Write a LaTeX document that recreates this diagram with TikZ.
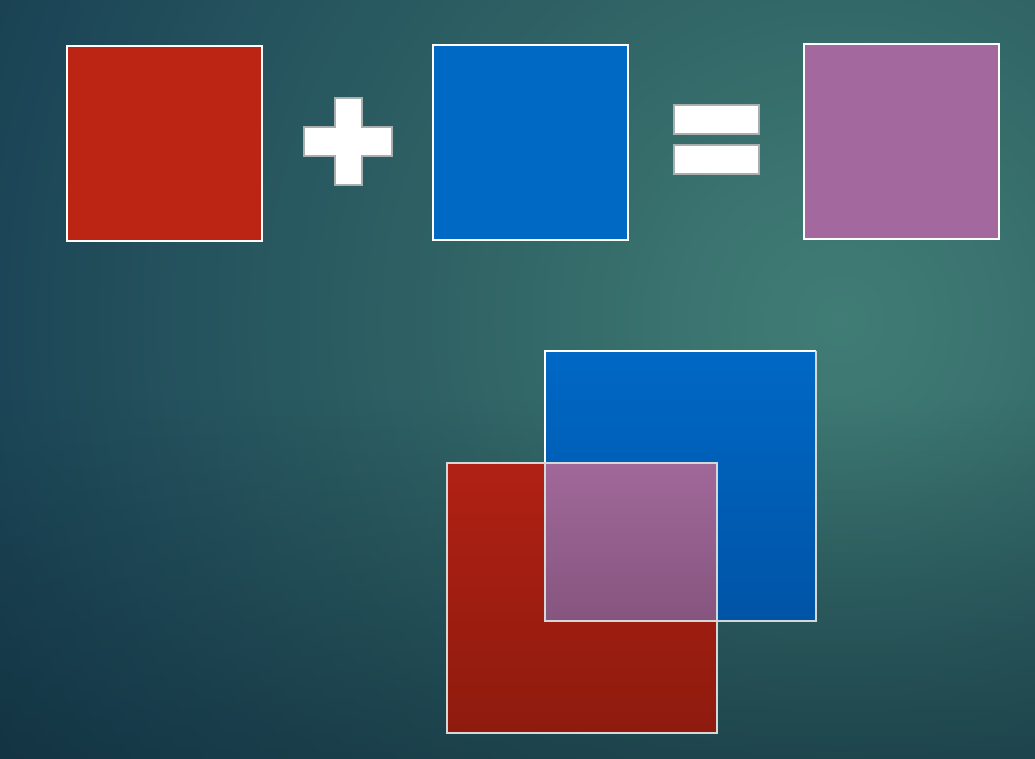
\documentclass[tikz,border=0pt]{standalone}
\usetikzlibrary{fadings}
\definecolor{bgA}{HTML}{407D75}
\definecolor{bgB}{HTML}{3C7671}
\definecolor{bgC}{HTML}{2F6264}
\definecolor{bgD}{HTML}{27565F}
\definecolor{bgE}{HTML}{1C4657}
\definecolor{bgF}{HTML}{163A4A}
\definecolor{bgG}{HTML}{0F2A36}
\definecolor{redA}{HTML}{BC2414}
\definecolor{blueA}{HTML}{0069C4}
\definecolor{purpA}{HTML}{A3699E}
\definecolor{redT}{HTML}{B02114}
\definecolor{redB}{HTML}{8E1B0E}
\definecolor{blueT}{HTML}{0068C5}
\definecolor{blueB}{HTML}{0054A6}
\definecolor{purpT}{HTML}{A06899}
\definecolor{purpB}{HTML}{86557F}
\definecolor{signedge}{HTML}{A9AEAF}
\definecolor{lowedge}{HTML}{D6D8D8}
\pgfdeclareradialshading{bgshade}{\pgfpoint{0bp}{0bp}}{color(0bp)=(bgA); color(3bp)=(bgB); color(10bp)=(bgC); color(15bp)=(bgD); color(21bp)=(bgE); color(25bp)=(bgF); color(50bp)=(bgF)}
\tikzfading[name=darkbottom, top color=transparent!100, bottom color=transparent!0]
\begin{document}
\begin{tikzpicture}[x=0.75pt,y=-0.75pt,
  sq/.style={draw=white,line width=2.4pt*0.75},
  lowsq/.style={draw=lowedge,line width=2.4pt*0.75},
  sign/.style={fill=white,draw=signedge,line width=2.6pt*0.75,line join=miter}]
\useasboundingbox (0,0) rectangle (1035,758);
\begin{scope}
\clip (0,0) rectangle (1035,758);
\shade[shading=bgshade] (840,320) circle (1000);
\fill[bgG,fill opacity=0.5,path fading=darkbottom] (-10,400) rectangle (1045,770);
\end{scope}
% top row
\filldraw[sq,fill=redA] (67,46) rectangle (262,241);
\path[sign] (335,98) -- (362,98) -- (362,127) -- (392,127) -- (392,156) -- (362,156) -- (362,185) -- (335,185) -- (335,156) -- (304,156) -- (304,127) -- (335,127) -- cycle;
\filldraw[sq,fill=blueA] (433,45) rectangle (628,240);
\path[sign] (674,105) rectangle (759,134);
\path[sign] (674,145) rectangle (759,174);
\filldraw[sq,fill=purpA] (804,44) rectangle (999,239);
% overlap
\shade[top color=blueT,bottom color=blueB] (545,351) rectangle (816,621);
\shade[top color=redT,bottom color=redB] (447,463) rectangle (717,733);
\shade[top color=purpT,bottom color=purpB] (545,463) rectangle (717,621);
\draw[draw=white,line width=2.4pt*0.75] (545,621) -- (545,351) -- (816,351);
\draw[lowsq] (816,351) -- (816,621) -- (545,621);
\draw[lowsq] (447,463) rectangle (717,733);
\draw[lowsq] (545,463) -- (545,621) -- (717,621);
\end{tikzpicture}
\end{document}
